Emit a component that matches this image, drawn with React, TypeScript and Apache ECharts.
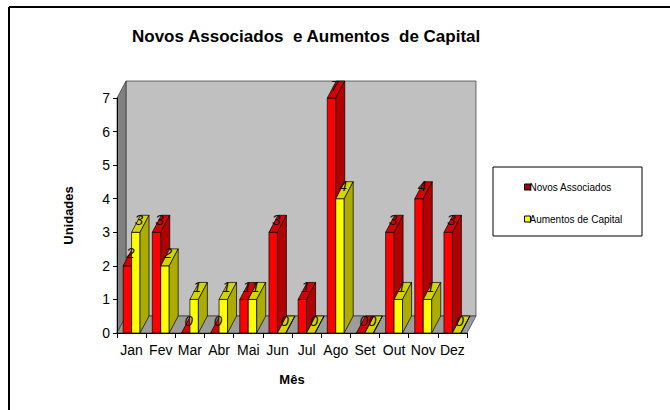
import React, { useEffect, useRef } from "react";
import * as echarts from "echarts";

const months = ["Jan", "Fev", "Mar", "Abr", "Mai", "Jun", "Jul", "Ago", "Set", "Out", "Nov", "Dez"];
const novosAssociados = [2, 3, 0, 0, 1, 3, 1, 7, 0, 3, 4, 3];
const aumentosCapital = [3, 2, 1, 1, 1, 0, 0, 4, 0, 1, 1, 0];
const seriesNames = ["Novos Associados", "Aumentos de Capital"];
const yMin = 0;
const yMax = 7;
const yInterval = 1;

const DX = 9;
const DY = -17;
const BAR_FRAC = 0.29;

const redColors = { front: "#FF0000", top: "#D40000", side: "#B00000" };
const yellowColors = { front: "#FFFF00", top: "#D4D400", side: "#ABAB00" };

function makeBarRenderer(slot: number, colors: { front: string; top: string; side: string }) {
  return (params: any, api: any) => {
    const idx = api.value(0);
    const val = api.value(1);
    const topPt = api.coord([idx, val]);
    const basePt = api.coord([idx, 0]);
    const band = api.size([1, 0])[0];
    const w = band * BAR_FRAC;
    const x = slot === 0 ? topPt[0] - w : topPt[0];
    const top = topPt[1];
    const bottom = basePt[1];
    const stroke = { stroke: "#000", lineWidth: 0.7 };
    return {
      type: "group",
      children: [
        {
          type: "rect",
          shape: { x, y: top, width: w, height: bottom - top },
          style: { fill: colors.front, ...stroke },
        },
        {
          type: "polygon",
          shape: {
            points: [
              [x, top],
              [x + DX, top + DY],
              [x + w + DX, top + DY],
              [x + w, top],
            ],
          },
          style: { fill: colors.top, ...stroke },
        },
        {
          type: "polygon",
          shape: {
            points: [
              [x + w, top],
              [x + w + DX, top + DY],
              [x + w + DX, bottom + DY],
              [x + w, bottom],
            ],
          },
          style: { fill: colors.side, ...stroke },
        },
      ],
    };
  };
}

function renderWalls(params: any, api: any) {
  const cs = params.coordSys;
  const x0 = cs.x;
  const x1 = cs.x + cs.width;
  const y0 = cs.y;
  const yB = cs.y + cs.height;
  const st = { stroke: "#333", lineWidth: 0.7 };
  return {
    type: "group",
    children: [
      {
        type: "rect",
        shape: { x: x0 + DX, y: y0 + DY, width: cs.width, height: cs.height },
        style: { fill: "#C0C0C0", ...st },
      },
      {
        type: "polygon",
        shape: { points: [[x0, y0], [x0 + DX, y0 + DY], [x0 + DX, yB + DY], [x0, yB]] },
        style: { fill: "#808080", ...st },
      },
      {
        type: "polygon",
        shape: { points: [[x0, yB], [x0 + DX, yB + DY], [x1 + DX, yB + DY], [x1, yB]] },
        style: { fill: "#9C9C9C", ...st },
      },
    ],
  };
}

function renderLabels(params: any, api: any) {
  const idx = api.value(0);
  const band = api.size([1, 0])[0];
  const w = band * BAR_FRAC;
  const children: any[] = [];
  [1, 2].forEach((dim, k) => {
    const v = api.value(dim);
    const p = api.coord([idx, v]);
    const x = k === 0 ? p[0] - w : p[0];
    children.push({
      type: "text",
      x: x + w / 2 + 3,
      y: p[1] - 13,
      style: {
        text: String(v),
        fill: "#111",
        font: "italic 15px 'Liberation Sans', Arial, sans-serif",
        align: "center",
        verticalAlign: "middle",
      },
    });
  });
  return { type: "group", children };
}

export default function App() {
  const ref = useRef<HTMLDivElement>(null);
  useEffect(() => {
    if (!ref.current) return;
    const chart = echarts.init(ref.current, null, { renderer: "svg" });
    const font = "'Liberation Sans', Arial, sans-serif";
    chart.setOption({
      animation: false,
      backgroundColor: "#fff",
      title: {
        text: "Novos Associados  e Aumentos  de Capital",
        left: 127,
        top: 23,
        textStyle: { fontFamily: font, fontSize: 17, fontWeight: "bold", color: "#000" },
      },
      legend: {
        orient: "vertical",
        left: 519,
        top: 177,
        itemWidth: 6,
        itemHeight: 6,
        itemGap: 22,
        icon: "rect",
        selectedMode: false,
        itemStyle: { borderColor: "#000", borderWidth: 1 },
        textStyle: { fontFamily: font, fontSize: 10, color: "#000", padding: [0, 0, 0, -6] },
        data: [
          { name: seriesNames[0], itemStyle: { color: "#A00000" } },
          { name: seriesNames[1], itemStyle: { color: "#FFFF00" } },
        ],
      },
      grid: { left: 117, top: 98, width: 350, height: 235 },
      xAxis: {
        type: "category",
        data: months,
        z: 10,
        name: "Mês",
        nameLocation: "middle",
        nameGap: 40,
        nameTextStyle: { fontFamily: font, fontSize: 13, fontWeight: "bold", color: "#000" },
        axisLine: { lineStyle: { color: "#000", width: 1 } },
        axisTick: { show: true, length: 5, lineStyle: { color: "#000" } },
        axisLabel: { interval: 0, hideOverlap: false, fontFamily: font, fontSize: 14, color: "#000", margin: 10 },
        splitLine: { show: false },
      },
      yAxis: {
        type: "value",
        min: yMin,
        max: yMax,
        interval: yInterval,
        z: 10,
        name: "Unidades",
        nameLocation: "middle",
        nameRotate: 90,
        nameGap: 42,
        nameTextStyle: { fontFamily: font, fontSize: 13, fontWeight: "bold", color: "#000" },
        axisLine: { show: true, lineStyle: { color: "#000", width: 1 } },
        axisTick: { show: true, length: 4, lineStyle: { color: "#000" } },
        axisLabel: { fontFamily: font, fontSize: 14, color: "#000", margin: 7 },
        splitLine: { show: false },
      },
      graphic: [
        { type: "line", shape: { x1: 9, y1: 7, x2: 670, y2: 7 }, style: { stroke: "#000", lineWidth: 2 } },
        { type: "line", shape: { x1: 9, y1: 7, x2: 9, y2: 410 }, style: { stroke: "#000", lineWidth: 2 } },
        {
          type: "rect",
          z: -1,
          shape: { x: 493, y: 167, width: 149, height: 69 },
          style: { fill: "#fff", stroke: "#000", lineWidth: 1 },
        },
      ],
      series: [
        {
          type: "custom",
          name: "walls",
          z: 1,
          silent: true,
          renderItem: renderWalls,
          data: [[0, 0]],
          encode: { x: 0, y: 1 },
        },
        {
          type: "custom",
          name: seriesNames[0],
          z: 2,
          itemStyle: { color: "#A00000" },
          renderItem: makeBarRenderer(0, redColors),
          data: novosAssociados.map((v, i) => [i, v]),
          encode: { x: 0, y: 1 },
        },
        {
          type: "custom",
          name: seriesNames[1],
          z: 3,
          itemStyle: { color: "#FFFF00" },
          renderItem: makeBarRenderer(1, yellowColors),
          data: aumentosCapital.map((v, i) => [i, v]),
          encode: { x: 0, y: 1 },
        },
        {
          type: "custom",
          name: "labels",
          z: 4,
          silent: true,
          renderItem: renderLabels,
          data: months.map((_, i) => [i, novosAssociados[i], aumentosCapital[i]]),
          encode: { x: 0, y: [1, 2] },
        },
      ],
    });
    return () => chart.dispose();
  }, []);
  return <div ref={ref} style={{ position: "fixed", left: 0, top: 0, width: 670, height: 410 }} />;
}
